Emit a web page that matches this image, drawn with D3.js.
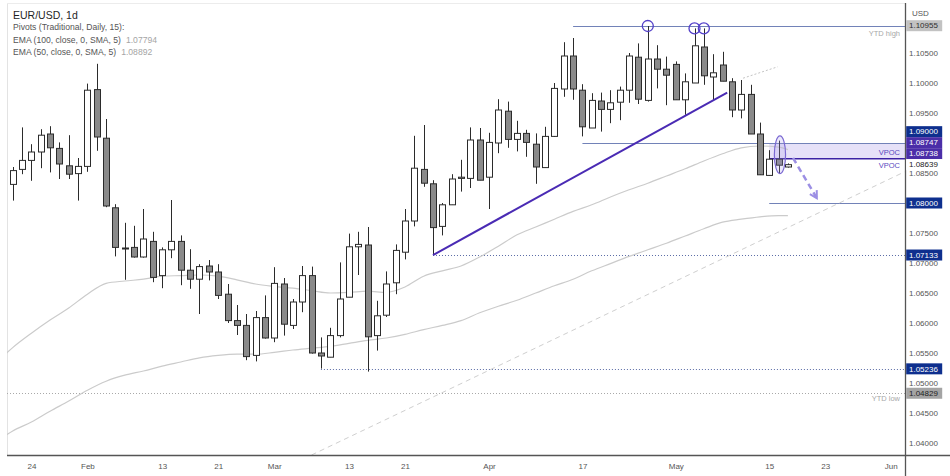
<!DOCTYPE html>
<html>
<head>
<meta charset="utf-8">
<script src="https://cdn.jsdelivr.net/npm/d3@7"></script>
<style>
  body { margin: 0; background: #fff; }
  svg { display: block; font-family: "Liberation Sans", Arial, sans-serif; }
</style>
</head>
<body>
<svg id="chart" width="950" height="476"></svg>
<script>
// EUR/USD daily candles, 20 Jan -> 17 May 2023
const opens = [1.0831,1.0856,1.0871,1.0885,1.0915,1.0891,1.0862,1.0849,1.0861,1.0989,
  1.0908,1.0792,1.0725,1.0726,1.0710,1.0736,1.0679,1.0722,1.0736,1.0688,
  1.0673,1.0695,1.0685,1.0648,1.0604,1.0596,1.0546,1.0609,1.0575,1.0665,
  1.0596,1.0635,1.0679,1.0550,1.0543,1.0579,1.0643,1.0727,1.0730,1.0579,
  1.0613,1.0667,1.0718,1.0770,1.0856,1.0832,1.0761,1.0797,1.0841,1.0841,
  1.0905,1.0843,1.0900,1.0953,1.0906,1.0916,1.0898,1.0859,1.0911,1.0990,
  1.1045,1.0988,1.0925,1.0970,1.0956,1.0968,1.0988,1.1043,1.0971,1.1040,
  1.1023,1.1031,1.0972,1.1000,1.1060,1.1010,1.1030,1.1002,1.0955,1.0981,
  1.0915,1.0846,1.0873,1.0860];
const highs = [1.0860,1.0926,1.0898,1.0923,1.0928,1.0901,1.0913,1.0875,1.0999,1.1032,
  1.0940,1.0798,1.0767,1.0762,1.0790,1.0752,1.0726,1.0805,1.0746,1.0723,
  1.0698,1.0705,1.0698,1.0665,1.0630,1.0615,1.0620,1.0646,1.0693,1.0675,
  1.0640,1.0695,1.0694,1.0576,1.0592,1.0701,1.0749,1.0752,1.0760,1.0637,
  1.0686,1.0731,1.0790,1.0912,1.0930,1.0838,1.0800,1.0848,1.0872,1.0926,
  1.0925,1.0917,1.0973,1.0969,1.0937,1.0922,1.0916,1.0927,1.1000,1.1068,
  1.1075,1.0998,1.0983,1.0984,1.0988,1.0994,1.1050,1.1066,1.1095,1.1063,
  1.1044,1.1036,1.1016,1.1091,1.1091,1.1048,1.1052,1.1008,1.1005,1.0997,
  1.0934,1.0888,1.0904,1.0866];
const lows = [1.0804,1.0848,1.0837,1.0858,1.0851,1.0840,1.0840,1.0804,1.0852,1.0887,
  1.0793,1.0711,1.0672,1.0709,1.0709,1.0668,1.0658,1.0708,1.0663,1.0657,
  1.0615,1.0671,1.0640,1.0600,1.0580,1.0538,1.0536,1.0574,1.0568,1.0579,
  1.0590,1.0618,1.0549,1.0524,1.0543,1.0576,1.0643,1.0680,1.0519,1.0554,
  1.0610,1.0648,1.0706,1.0761,1.0827,1.0714,1.0746,1.0797,1.0819,1.0825,
  1.0838,1.0790,1.0883,1.0892,1.0886,1.0877,1.0832,1.0859,1.0910,1.0977,
  1.0972,1.0911,1.0925,1.0919,1.0933,1.0938,1.0967,1.0965,1.0969,1.0991,
  1.0963,1.0972,1.0947,1.1000,1.0997,1.0971,1.1003,1.0943,1.0941,1.0915,
  1.0847,1.0846,1.0850,1.0859];
const closes = [1.0854,1.0871,1.0885,1.0913,1.0892,1.0865,1.0848,1.0861,1.0988,1.0910,
  1.0795,1.0726,1.0724,1.0710,1.0740,1.0676,1.0722,1.0736,1.0688,1.0673,
  1.0694,1.0685,1.0646,1.0604,1.0596,1.0544,1.0609,1.0575,1.0666,1.0598,
  1.0635,1.0679,1.0550,1.0545,1.0579,1.0640,1.0727,1.0731,1.0577,1.0612,
  1.0665,1.0721,1.0770,1.0858,1.0833,1.0759,1.0797,1.0840,1.0843,1.0905,
  1.0838,1.0901,1.0955,1.0906,1.0916,1.0901,1.0860,1.0911,1.0991,1.1045,
  1.0990,1.0927,1.0971,1.0956,1.0967,1.0988,1.1045,1.0973,1.1040,1.1023,
  1.1013,1.0972,1.1002,1.1062,1.1012,1.1017,1.1003,1.0955,1.0981,1.0915,
  1.0847,1.0873,1.0863,1.08639];

// moving averages, sampled at candle indices
const emaIdx = [-1,0,2,4,6,8,10,12,14,16,18,20,22,24,26,28,30,32,34,36,38,40,
  42,44,46,48,50,52,54,56,58,60,62,64,66,68,70,72,74,76,78,80,82,83];
const ema50 = [1.0545,1.0559,1.0583,1.0605,1.0625,1.0648,1.0666,1.0670,1.0673,1.0678,1.0679,
  1.0680,1.0678,1.0672,1.0665,1.0661,1.0658,1.0654,1.0650,1.0651,1.0653,1.0651,
  1.0660,1.0678,1.0687,1.0695,1.0710,1.0728,1.0747,1.0760,1.0773,1.0786,1.0797,
  1.0810,1.0822,1.0833,1.0845,1.0857,1.0870,1.0882,1.0892,1.0895,1.0893,1.0889];
const ema100 = [1.0410,1.0420,1.0435,1.0453,1.0470,1.0488,1.0503,1.0513,1.0520,1.0528,1.0535,
  1.0542,1.0546,1.0548,1.0548,1.0551,1.0555,1.0558,1.0561,1.0566,1.0571,1.0575,
  1.0581,1.0589,1.0596,1.0604,1.0617,1.0628,1.0638,1.0650,1.0662,1.0673,1.0687,
  1.0699,1.0711,1.0722,1.0733,1.0745,1.0757,1.0768,1.0773,1.0777,1.0779,1.0779];

// axes
const dateTickIdx = [2, 8, 16, 22, 28, 36, 42, 51, 61, 71, 81, 87, 94];
const dateTickLabels = ["24", "Feb", "13", "21", "Mar", "13", "21", "Apr", "17", "May", "15", "23", "Jun"];
const priceTicks = [1.040,1.045,1.050,1.055,1.060,1.065,1.070,1.075,1.080,1.085,1.090,1.095,1.100,1.105];

// drawn levels and annotations
const solidLevels = [1.10955, 1.09000, 1.08000];
const solidFrom = [60, 61, 81];
const dottedLevels = [1.07133, 1.05236];
const dottedFrom = [45, 33];
const ytdLow = 1.04829;
const vpocBand = [1.09000, 1.08747];
const vpocLine = 1.08738;
const vpocFrom = 81;
const trendIdx = [45, 76.5], trendPx = [1.07133, 1.0984];
const extIdx = [78.2, 81.9], extPx = [1.1008, 1.1027];
const longIdx = [32, 95.5], longPx = [1.0380, 1.0852];
const arrowIdx = [83.55, 86.1], arrowPx = [1.0875, 1.0808];
const ellipseIdx = [81.55, 82.75], ellipsePx = [1.0849, 1.0912];
const circledBars = [68, 73, 74];
const tagValues = [1.10955, 1.09000, 1.08747, 1.08738, 1.08639, 1.08000, 1.07133, 1.05236, 1.04829];
const tagKinds = ["ytd", "pivot", "vpoc", "vpoc", "last", "pivot", "pivot", "pivot", "ytdlow"];

const W = 950, H = 476;
const plotL = 7, plotR = 905, plotT = 3, plotB = 455;
const svg = d3.select("#chart");

const x = d3.scaleLinear().domain([0, 83]).range([12.7, 787.9]);
const y = d3.scaleLinear().domain([1.04, 1.105]).range([443, 53]);

svg.append("defs").append("clipPath").attr("id", "plot")
  .append("rect").attr("x", plotL).attr("y", plotT)
  .attr("width", plotR - plotL).attr("height", plotB - plotT);
const marker = svg.select("defs").append("marker")
  .attr("id", "head").attr("viewBox", "0 0 10 10")
  .attr("refX", 8).attr("refY", 5).attr("markerWidth", 4).attr("markerHeight", 4)
  .attr("orient", "auto");
marker.append("path").attr("d", "M1,1 L8,5 L1,9")
  .attr("fill", "none").attr("stroke", "#9c8fe4").attr("stroke-width", 2);

// frame
svg.append("line").attr("x1", plotL + 0.5).attr("x2", plotL + 0.5)
  .attr("y1", plotT).attr("y2", plotB).attr("stroke", "#e3e3e3");
svg.append("line").attr("x1", plotL).attr("x2", plotR)
  .attr("y1", plotT + 0.5).attr("y2", plotT + 0.5).attr("stroke", "#ececec");

const g = svg.append("g").attr("clip-path", "url(#plot)");

// VPOC band
g.append("rect")
  .attr("x", x(vpocFrom)).attr("y", y(vpocBand[0]))
  .attr("width", plotR - x(vpocFrom)).attr("height", y(vpocBand[1]) - y(vpocBand[0]))
  .attr("fill", "#e6e1f8");
g.append("line")
  .attr("x1", x(vpocFrom)).attr("x2", plotR)
  .attr("y1", y(vpocLine)).attr("y2", y(vpocLine))
  .attr("stroke", "#3c22a4").attr("stroke-width", 1.5);

// horizontal levels
solidLevels.forEach((p, i) => {
  g.append("line").attr("x1", x(solidFrom[i])).attr("x2", plotR)
    .attr("y1", Math.round(y(p)) + 0.5).attr("y2", Math.round(y(p)) + 0.5)
    .attr("stroke", "#7282b8").attr("stroke-width", 1.2);
});
dottedLevels.forEach((p, i) => {
  g.append("line").attr("x1", x(dottedFrom[i])).attr("x2", plotR)
    .attr("y1", Math.round(y(p)) + 0.5).attr("y2", Math.round(y(p)) + 0.5)
    .attr("stroke", "#5b6ca6").attr("stroke-dasharray", "1,2");
});
g.append("line").attr("x1", plotL).attr("x2", plotR)
  .attr("y1", Math.round(y(ytdLow)) + 0.5).attr("y2", Math.round(y(ytdLow)) + 0.5)
  .attr("stroke", "#a9a9a9").attr("stroke-dasharray", "1,2");

// moving averages
const emaLine = d3.line().curve(d3.curveMonotoneX)
  .x((d, i) => x(emaIdx[i])).y(d => y(d));
[ema50, ema100].forEach(s => {
  g.append("path").attr("d", emaLine(s))
    .attr("fill", "none").attr("stroke", "#cbcbcb").attr("stroke-width", 1.2);
});

// long dashed support line
g.append("line")
  .attr("x1", x(longIdx[0])).attr("y1", y(longPx[0]))
  .attr("x2", x(longIdx[1])).attr("y2", y(longPx[1]))
  .attr("stroke", "#cfcfcf").attr("stroke-dasharray", "5,4");

// candles
const bars = d3.range(opens.length);
const cg = g.append("g").selectAll("g").data(bars).join("g");
cg.append("line")
  .attr("x1", k => Math.round(x(k)) + 0.5).attr("x2", k => Math.round(x(k)) + 0.5)
  .attr("y1", k => y(highs[k])).attr("y2", k => y(lows[k]))
  .attr("stroke", "#2b2b2b");
cg.append("rect")
  .attr("x", k => Math.round(x(k)) - 2.5).attr("width", 6)
  .attr("y", k => y(Math.max(opens[k], closes[k])))
  .attr("height", k => Math.max(1, Math.abs(y(opens[k]) - y(closes[k]))))
  .attr("fill", k => closes[k] >= opens[k] ? "#ffffff" : "#8a8a8a")
  .attr("stroke", "#2b2b2b");

// trend line and its extension
g.append("line")
  .attr("x1", x(trendIdx[0])).attr("y1", y(trendPx[0]))
  .attr("x2", x(trendIdx[1])).attr("y2", y(trendPx[1]))
  .attr("stroke", "#4a2bb4").attr("stroke-width", 2);
g.append("line")
  .attr("x1", x(extIdx[0])).attr("y1", y(extPx[0]))
  .attr("x2", x(extIdx[1])).attr("y2", y(extPx[1]))
  .attr("stroke", "#c4c4c4").attr("stroke-dasharray", "2,2");

// circles on the highs
g.selectAll(".ring").data(circledBars).join("circle").attr("class", "ring")
  .attr("cx", k => x(k)).attr("cy", k => y(highs[k]))
  .attr("r", 5.5).attr("fill", "none").attr("stroke", "#5340c9").attr("stroke-width", 1.3);

// ellipse round the last bars
g.append("ellipse")
  .attr("cx", (x(ellipseIdx[0]) + x(ellipseIdx[1])) / 2)
  .attr("cy", (y(ellipsePx[0]) + y(ellipsePx[1])) / 2)
  .attr("rx", (x(ellipseIdx[1]) - x(ellipseIdx[0])) / 2)
  .attr("ry", (y(ellipsePx[0]) - y(ellipsePx[1])) / 2)
  .attr("fill", "rgba(170,155,235,0.22)").attr("stroke", "#7a68d2").attr("stroke-width", 1.2);

// projected move
g.append("line")
  .attr("x1", x(arrowIdx[0])).attr("y1", y(arrowPx[0]))
  .attr("x2", x(arrowIdx[1])).attr("y2", y(arrowPx[1]))
  .attr("stroke", "#9c8fe4").attr("stroke-width", 2.5).attr("stroke-dasharray", "6,4")
  .attr("marker-end", "url(#head)");

// small chart texts
const small = (t, xx, yy, col) => svg.append("text").text(t)
  .attr("x", xx).attr("y", yy).attr("text-anchor", "end")
  .attr("font-size", 7.5).attr("fill", col);
small("YTD high", 900, 35.5, "#a8a8a8");
small("YTD low", 900, 401, "#a8a8a8");
small("VPOC", 900, 155, "#5a48c0");
small("VPOC", 900, 167.5, "#5a48c0");

// axes
svg.append("line").attr("x1", plotR + 0.5).attr("x2", plotR + 0.5)
  .attr("y1", plotT).attr("y2", H).attr("stroke", "#555").attr("stroke-width", 1.3);
svg.append("line").attr("x1", plotL).attr("x2", W)
  .attr("y1", plotB + 0.5).attr("y2", plotB + 0.5).attr("stroke", "#555").attr("stroke-width", 1.3);

const yAxis = svg.append("g").attr("transform", `translate(${plotR},0)`)
  .call(d3.axisRight(y).tickValues(priceTicks).tickFormat(d3.format(".5f")).tickSize(0).tickPadding(4));
yAxis.select(".domain").remove();
yAxis.selectAll("text").attr("font-size", 8).attr("fill", "#555")
  .attr("font-family", "'Liberation Sans', Arial, sans-serif");

const xAxis = svg.append("g").attr("transform", `translate(0,${plotB})`)
  .call(d3.axisBottom(x).tickValues(dateTickIdx).tickFormat((d, i) => dateTickLabels[i]).tickSize(0).tickPadding(8));
xAxis.select(".domain").remove();
xAxis.selectAll("text").attr("font-size", 8).attr("fill", "#555")
  .attr("font-family", "'Liberation Sans', Arial, sans-serif");

svg.append("text").text("USD").attr("x", 912).attr("y", 16)
  .attr("font-size", 8).attr("fill", "#555");

// price tags, stacked upward where they collide
const tagH = 11;
const tagY = tagValues.map(v => y(v));
const order = d3.range(tagValues.length).sort((a, b) => tagY[b] - tagY[a]);
let prev = Infinity;
order.forEach(i => {
  tagY[i] = Math.min(tagY[i], prev - tagH);
  prev = tagY[i];
});
const tagStyle = {
  ytd: ["#c2c2c2", "#2f2f2f"], ytdlow: ["#a4a4a4", "#222"],
  pivot: ["#0e2f8e", "#fff"], vpoc: ["#4b2ea8", "#fff"], last: ["#fff", "#222"]
};
tagValues.forEach((v, i) => {
  const [bg, fg] = tagStyle[tagKinds[i]];
  svg.append("rect").attr("x", plotR + 1.2).attr("y", tagY[i] - tagH / 2)
    .attr("width", 36).attr("height", tagH).attr("fill", bg);
  svg.append("text").text(d3.format(".5f")(v))
    .attr("x", 909).attr("y", tagY[i]).attr("dy", "0.34em")
    .attr("font-size", 8).attr("fill", fg);
});

// legend
svg.append("text").text("EUR/USD, 1d").attr("x", 13).attr("y", 19)
  .attr("font-size", 10.5).attr("fill", "#1f1f1f");
svg.append("text").text("Pivots (Traditional, Daily, 15):").attr("x", 13).attr("y", 30)
  .attr("font-size", 8.6).attr("fill", "#555");
const emaLegend = [["EMA (100, close, 0, SMA, 5)", ema100[ema100.length - 1]],
                   ["EMA (50, close, 0, SMA, 5)", ema50[ema50.length - 1]]];
const legendValues = ["1.07794", "1.08892"];
emaLegend.forEach(([label], i) => {
  const t = svg.append("text").text(label).attr("x", 13).attr("y", 42.5 + i * 12)
    .attr("font-size", 8.6).attr("fill", "#555");
  const w = t.node().getComputedTextLength();
  svg.append("text").text(legendValues[i]).attr("x", 13 + w + 5).attr("y", 42.5 + i * 12)
    .attr("font-size", 8.6).attr("fill", "#a5a5a5");
});
</script>
</body>
</html>
